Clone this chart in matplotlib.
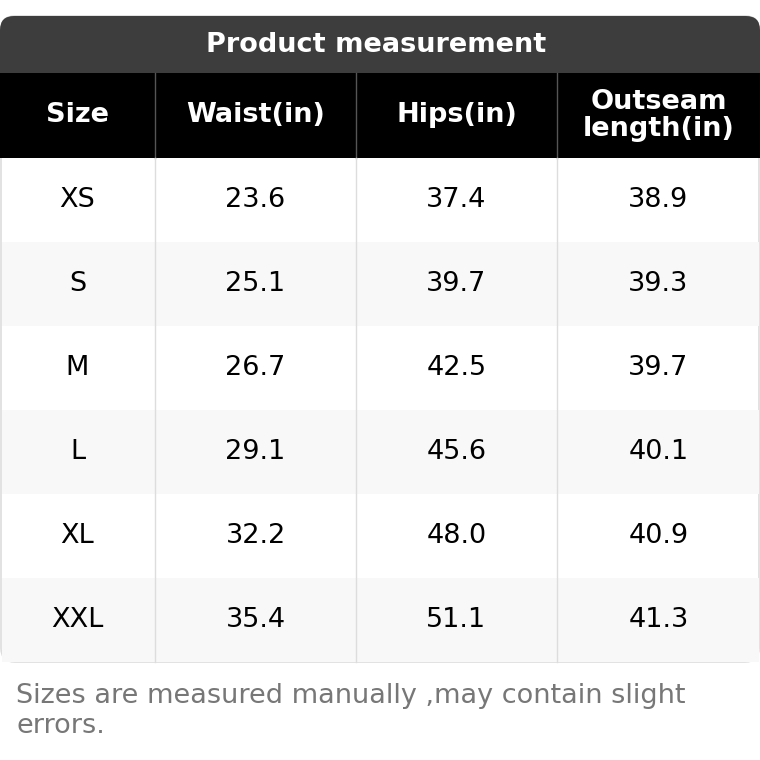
import matplotlib
matplotlib.use("Agg")
import matplotlib.pyplot as plt
from matplotlib.patches import Rectangle, FancyBboxPatch

title = "Product measurement"
headers = ["Size", "Waist(in)", "Hips(in)", "Outseam\nlength(in)"]
sizes = ["XS", "S", "M", "L", "XL", "XXL"]
waist = ["23.6", "25.1", "26.7", "29.1", "32.2", "35.4"]
hips = ["37.4", "39.7", "42.5", "45.6", "48.0", "51.1"]
outseam = ["38.9", "39.3", "39.7", "40.1", "40.9", "41.3"]
note = "Sizes are measured manually ,may contain slight\nerrors."

col_edges = [0, 155, 356, 557, 760]
title_top, title_bot = 16, 73
head_bot = 158
row_h = 84
FS = 19.5

fig = plt.figure(figsize=(7.6, 7.6), dpi=100)
ax = fig.add_axes([0, 0, 1, 1])
ax.set_xlim(0, 760); ax.set_ylim(760, 0); ax.axis("off")

n = len(sizes)
body_bot = head_bot + n * row_h
ax.add_patch(FancyBboxPatch((1, title_top), 758, body_bot - title_top, boxstyle="round,pad=0,rounding_size=14",
                            fc="white", ec="#dddddd", lw=1.2, zorder=0))
ax.add_patch(FancyBboxPatch((0, title_top), 760, 40, boxstyle="round,pad=0,rounding_size=14",
                            fc="#3d3d3d", ec="none", zorder=1))
ax.add_patch(Rectangle((0, title_top + 20), 760, title_bot - title_top - 20, fc="#3d3d3d", ec="none", zorder=1))
ax.text(376, (title_top + title_bot) / 2, title, color="white", fontsize=FS, fontweight="bold",
        ha="center", va="center", zorder=3)
ax.add_patch(Rectangle((0, title_bot), 760, head_bot - title_bot, fc="black", ec="none", zorder=1))
for i, h in enumerate(headers):
    cx = (col_edges[i] + col_edges[i + 1]) / 2
    ax.text(cx, (title_bot + head_bot) / 2, h, color="white", fontsize=FS, fontweight="bold",
            ha="center", va="center", linespacing=1.05, zorder=3)
cols = [sizes, waist, hips, outseam]
for r in range(n):
    y0 = head_bot + r * row_h
    if r % 2 == 1:
        ax.add_patch(Rectangle((1.5, y0), 757, row_h, fc="#f8f8f8", ec="none", zorder=1))
    for c in range(4):
        cx = (col_edges[c] + col_edges[c + 1]) / 2
        ax.text(cx, y0 + row_h / 2, cols[c][r], color="black", fontsize=FS, ha="center", va="center", zorder=3)
for x in col_edges[1:-1]:
    ax.plot([x, x], [title_bot, head_bot], color="#555555", lw=1, zorder=2)
    ax.plot([x, x], [head_bot, body_bot], color="#dddddd", lw=1, zorder=2)
ax.text(16, 711, note, color="#777777", fontsize=FS, ha="left", va="center", linespacing=1.2)
fig.savefig("out.png", dpi=100)
